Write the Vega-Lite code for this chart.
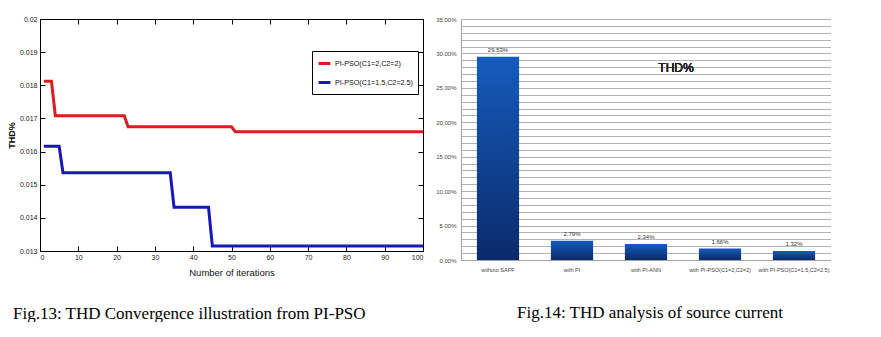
{
  "$schema": "https://vega.github.io/schema/vega-lite/v6.json",
  "background": "white",
  "padding": {"left": 7, "top": 15, "right": 0, "bottom": 0},
  "spacing": 6,
  "config": {"view": {"stroke": null}},
  "datasets": {
    "pso": [
      {"iteration": 1, "thd": 0.01812, "series": "PI-PSO(C1=2,C2=2)"},
      {"iteration": 3, "thd": 0.01812, "series": "PI-PSO(C1=2,C2=2)"},
      {"iteration": 4, "thd": 0.01708, "series": "PI-PSO(C1=2,C2=2)"},
      {"iteration": 22, "thd": 0.01708, "series": "PI-PSO(C1=2,C2=2)"},
      {"iteration": 23, "thd": 0.01675, "series": "PI-PSO(C1=2,C2=2)"},
      {"iteration": 50, "thd": 0.01675, "series": "PI-PSO(C1=2,C2=2)"},
      {"iteration": 51, "thd": 0.0166, "series": "PI-PSO(C1=2,C2=2)"},
      {"iteration": 100, "thd": 0.0166, "series": "PI-PSO(C1=2,C2=2)"},
      {"iteration": 1, "thd": 0.01616, "series": "PI-PSO(C1=1.5,C2=2.5)"},
      {"iteration": 5, "thd": 0.01616, "series": "PI-PSO(C1=1.5,C2=2.5)"},
      {"iteration": 6, "thd": 0.01536, "series": "PI-PSO(C1=1.5,C2=2.5)"},
      {"iteration": 34, "thd": 0.01536, "series": "PI-PSO(C1=1.5,C2=2.5)"},
      {"iteration": 35, "thd": 0.01432, "series": "PI-PSO(C1=1.5,C2=2.5)"},
      {"iteration": 44, "thd": 0.01432, "series": "PI-PSO(C1=1.5,C2=2.5)"},
      {"iteration": 45, "thd": 0.01315, "series": "PI-PSO(C1=1.5,C2=2.5)"},
      {"iteration": 100, "thd": 0.01315, "series": "PI-PSO(C1=1.5,C2=2.5)"}
    ],
    "bars": [
      {"config": "without SAPF", "thd": 0.2953},
      {"config": "with PI", "thd": 0.0279},
      {"config": "with PI-ANN", "thd": 0.0234},
      {"config": "with PI-PSO(C1=2,C2=2)", "thd": 0.0166},
      {"config": "with PI-PSO(C1=1.5,C2=2.5)", "thd": 0.0132}
    ]
  },
  "hconcat": [
    {
      "width": 383,
      "height": 232,
      "title": {
        "text": "Fig.13: THD Convergence illustration from PI-PSO",
        "orient": "bottom", "anchor": "start", "frame": "group",
        "font": "Liberation Serif", "fontSize": 17, "fontWeight": "normal",
        "color": "black", "dx": -27, "offset": 29, "baseline": "top"
      },
      "data": {"name": "pso"},
      "layer": [
        {
          "mark": {"type": "line", "strokeWidth": 3},
          "encoding": {
            "x": {
              "field": "iteration", "type": "quantitative",
              "scale": {"domain": [0, 100], "nice": false, "zero": false},
              "axis": {
                "orient": "bottom", "values": [0,10,20,30,40,50,60,70,80,90,100],
                "tickSize": -5, "tickColor": "black", "domainColor": "black", "grid": false,
                "labelFont": "Liberation Sans, sans-serif", "labelFontSize": 7, "labelColor": "#222",
                "labelPadding": 7, "labelOverlap": false,
                "title": "Number of iterations", "titleFont": "Liberation Sans, sans-serif",
                "titleFontSize": 9.5, "titleFontWeight": "normal", "titleColor": "#111", "titlePadding": 7
              }
            },
            "y": {
              "field": "thd", "type": "quantitative",
              "scale": {"domain": [0.013, 0.02], "nice": false, "zero": false},
              "axis": {
                "orient": "left", "values": [0.013,0.014,0.015,0.016,0.017,0.018,0.019,0.02], "format": ".3~f",
                "tickSize": -5, "tickColor": "black", "domainColor": "black", "grid": false,
                "labelFont": "Liberation Sans, sans-serif", "labelFontSize": 7, "labelColor": "#222",
                "labelPadding": 8, "labelOverlap": false,
                "title": "THD%", "titleFont": "Liberation Sans, sans-serif",
                "titleFontSize": 9, "titleFontWeight": "bold", "titleColor": "#111", "titlePadding": 3
              }
            },
            "color": {
              "field": "series", "type": "nominal",
              "scale": {"domain": ["PI-PSO(C1=2,C2=2)", "PI-PSO(C1=1.5,C2=2.5)"], "range": ["#d81e1e", "#1818b8"]},
              "legend": {
                "orient": "none", "legendX": 272, "legendY": 32, "title": null,
                "strokeColor": "black", "fillColor": "white", "padding": 5,
                "symbolType": "stroke", "symbolStrokeWidth": 3, "symbolSize": 140,
                "labelFont": "Liberation Sans, sans-serif", "labelFontSize": 7.2, "labelColor": "#111",
                "rowPadding": 5, "labelOffset": 3
              }
            }
          }
        },
        {
          "mark": {"type": "line", "opacity": 0},
          "encoding": {
            "x": {
              "field": "iteration", "type": "quantitative",
              "axis": {"orient": "top", "values": [0,10,20,30,40,50,60,70,80,90,100], "labels": false, "title": null,
                "tickSize": -5, "tickColor": "black", "domainColor": "black", "grid": false}
            },
            "y": {
              "field": "thd", "type": "quantitative",
              "axis": {"orient": "right", "values": [0.013,0.014,0.015,0.016,0.017,0.018,0.019,0.02], "labels": false, "title": null,
                "tickSize": -5, "tickColor": "black", "domainColor": "black", "grid": false}
            },
            "detail": {"field": "series"}
          }
        }
      ],
      "resolve": {"axis": {"x": "independent", "y": "independent"}}
    },
    {
      "width": 370,
      "height": 241,
      "title": {
        "text": "Fig.14: THD analysis of source current",
        "orient": "bottom", "anchor": "start", "frame": "group",
        "font": "Liberation Serif", "fontSize": 17, "fontWeight": "normal",
        "color": "black", "dx": 56, "offset": 32, "baseline": "top"
      },
      "data": {"name": "bars"},
      "layer": [
        {
          "mark": {
            "type": "bar",
            "color": {
              "gradient": "linear", "x1": 0, "y1": 1, "x2": 0, "y2": 0,
              "stops": [{"offset": 0, "color": "#0a2a6a"}, {"offset": 1, "color": "#165cbc"}]
            }
          },
          "encoding": {
            "x": {
              "field": "config", "type": "nominal", "sort": null,
              "scale": {"paddingInner": 0.43, "paddingOuter": 0.215},
              "axis": {
                "labelAngle": 0, "ticks": false, "domainColor": "#a0a0a0", "labelPadding": 7,
                "labelFont": "Liberation Sans, sans-serif", "labelFontSize": 5.5, "labelColor": "#444", "labelLimit": 200,
                "labelOverlap": false, "title": null
              }
            },
            "y": {
              "field": "thd", "type": "quantitative",
              "scale": {"domain": [0, 0.35], "nice": false},
              "axis": {
                "orient": "left",
                "values": [0, 0.05, 0.1, 0.15, 0.2, 0.25, 0.3, 0.35],
                "format": ".2%",
                "labelOverlap": false, "grid": false,
                "ticks": false, "domainColor": "#a0a0a0", "labelPadding": 5,
                "labelFont": "Liberation Sans, sans-serif", "labelFontSize": 6, "labelColor": "#444",
                "title": null
              }
            }
          }
        },
        {
          "mark": {"type": "text", "baseline": "bottom", "dy": -4, "font": "Liberation Sans, sans-serif", "fontSize": 6, "color": "#333"},
          "encoding": {
            "x": {"field": "config", "type": "nominal", "sort": null},
            "y": {
              "field": "thd", "type": "quantitative",
              "axis": {
                "orient": "right",
                "values": [0.01,0.02,0.03,0.04,0.05,0.06,0.07,0.08,0.09,0.1,0.11,0.12,0.13,0.14,0.15,0.16,0.17,0.18,0.19,0.2,0.21,0.22,0.23,0.24,0.25,0.26,0.27,0.28,0.29,0.3,0.31,0.32,0.33,0.34,0.35],
                "labels": false, "ticks": false, "domain": false, "title": null,
                "grid": true, "gridColor": "#b4b4b4", "gridWidth": 1
              }
            },
            "text": {"field": "thd", "type": "quantitative", "format": ".2%"}
          }
        },
        {
          "mark": {"type": "text", "font": "Liberation Sans, sans-serif", "fontSize": 12, "fontWeight": "normal", "color": "#222", "dx": 30},
          "encoding": {
            "x": {"datum": "with PI-ANN"},
            "y": {"datum": 0.279, "axis": null},
            "text": {"value": "THD%"}
          }
        }
      ],
      "resolve": {"axis": {"y": "independent"}}
    }
  ]
}
